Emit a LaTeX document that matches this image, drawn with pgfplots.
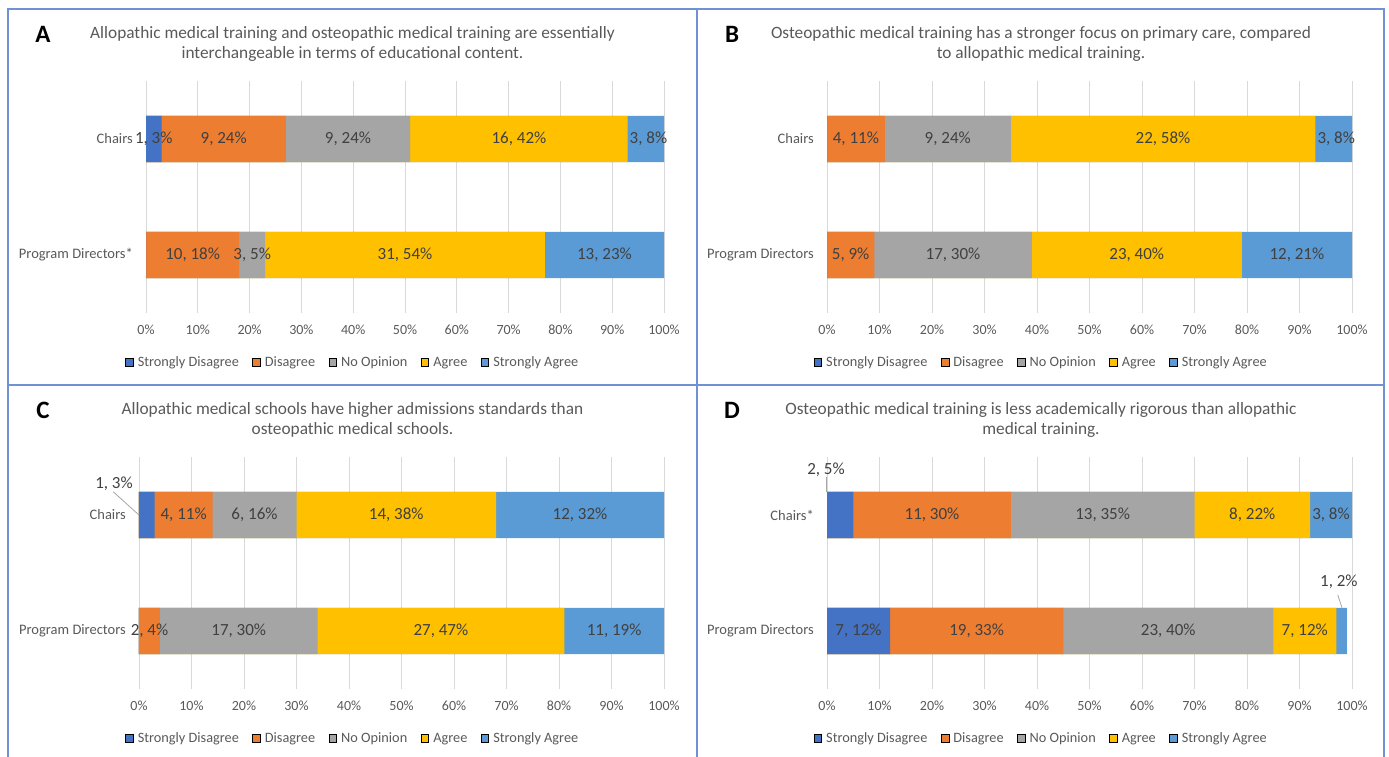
\documentclass[border=0pt]{standalone}
\usepackage{fontspec}
\setmainfont{Carlito}
\usepackage{pgfplots}
\usepackage{pgfplotstable}
\pgfplotsset{compat=1.18}

\definecolor{sdis}{HTML}{4472C4}
\definecolor{dis}{HTML}{ED7D31}
\definecolor{noop}{HTML}{A5A5A5}
\definecolor{agr}{HTML}{FFC000}
\definecolor{sagr}{HTML}{5B9BD5}
\definecolor{txtgray}{HTML}{595959}
\definecolor{lblgray}{HTML}{404040}
\definecolor{gridgray}{HTML}{D9D9D9}
\definecolor{leadgray}{HTML}{A6A6A6}
\definecolor{panelframe}{RGB}{112,146,212}

% Rounded shares (percent) with "count, share" labels; y=1 chairs, y=0 program directors
\pgfplotstableread[col sep=semicolon]{
y;sd;sdl;d;dl;no;nol;a;al;sa;sal
0;0;{};18;10, 18\%;5;3, 5\%;54;31, 54\%;23;13, 23\%
1;3;1, 3\%;24;9, 24\%;24;9, 24\%;42;16, 42\%;8;3, 8\%
}\tabA
\pgfplotstableread[col sep=semicolon]{
y;sd;sdl;d;dl;no;nol;a;al;sa;sal
0;0;{};9;5, 9\%;30;17, 30\%;40;23, 40\%;21;12, 21\%
1;0;{};11;4, 11\%;24;9, 24\%;58;22, 58\%;8;3, 8\%
}\tabB
\pgfplotstableread[col sep=semicolon]{
y;sd;sdl;d;dl;no;nol;a;al;sa;sal
0;0;{};4;2, 4\%;30;17, 30\%;47;27, 47\%;19;11, 19\%
1;3;{};11;4, 11\%;16;6, 16\%;38;14, 38\%;32;12, 32\%
}\tabC
\pgfplotstableread[col sep=semicolon]{
y;sd;sdl;d;dl;no;nol;a;al;sa;sal
0;12;7, 12\%;33;19, 33\%;40;23, 40\%;12;7, 12\%;2;{}
1;5;{};30;11, 30\%;35;13, 35\%;22;8, 22\%;8;3, 8\%
}\tabD

\pgfplotsset{
  likert/.style={
    scale only axis,
    height=232pt,
    xmin=0, xmax=100,
    ymin=-0.5, ymax=1.5,
    clip mode=individual,
    xtick={0,10,...,100},
    xticklabels={0\%,10\%,20\%,30\%,40\%,50\%,60\%,70\%,80\%,90\%,100\%},
    ytick={0,1},
    xmajorgrids,
    major grid style={draw=gridgray, line width=0.9pt},
    axis line style={draw=none},
    major tick length=0pt,
    xticklabel style={font=\fontsize{14}{16}\selectfont, text=txtgray, anchor=center, yshift=-17pt},
    yticklabel style={font=\fontsize{14.5}{16}\selectfont, text=txtgray, anchor=east, inner sep=0pt, xshift=-13pt},
    legend columns=5,
    legend image code/.code={\fill[##1] (0pt,-3.8pt) rectangle (7.6pt,3.8pt);},
    legend style={draw=none, fill=none, anchor=center, font=\fontsize{14.3}{16}\selectfont, text=txtgray,
      nodes={inner sep=1.5pt},
      /tikz/every even column/.append style={column sep=12pt},
      /tikz/every odd column/.append style={column sep=3pt}},
  },
  % one stacked segment: a bar from 0 to the running total, drawn last-to-first
  seg/.style={xbar, bar width=0.397, bar shift=0pt, fill=#1, draw=none, forget plot},
  % the "count, share" text in the middle of a segment
  seglabel/.style={only marks, mark=*, mark size=0pt, mark options={draw=none, fill=none},
    forget plot, point meta=explicit symbolic, nodes near coords,
    every node near coord/.append style={font=\fontsize{17}{18}\selectfont, text=lblgray, anchor=center, inner sep=0pt}},
}
\tikzset{
  annot/.style={font=\fontsize{17}{18}\selectfont, text=lblgray, inner sep=0pt},
  leader/.style={draw=leadgray, line width=0.8pt},
  letter/.style={font=\bfseries\fontsize{25}{28}\selectfont, text=black},
  stmt/.style={font=\fontsize{17.3}{20.5}\selectfont, text=txtgray, align=center},
}

\newcommand\likertlegend{%
  \addlegendimage{fill=sdis}\addlegendentry{Strongly Disagree}
  \addlegendimage{fill=dis}\addlegendentry{Disagree}
  \addlegendimage{fill=noop}\addlegendentry{No Opinion}
  \addlegendimage{fill=agr}\addlegendentry{Agree}
  \addlegendimage{fill=sagr}\addlegendentry{Strongly Agree}}

\newcommand\likertbars[1]{%
  \addplot[seg=sagr] table[x expr={\thisrow{sd}+\thisrow{d}+\thisrow{no}+\thisrow{a}+\thisrow{sa}}, y=y] {#1};
  \addplot[seg=agr]  table[x expr={\thisrow{sd}+\thisrow{d}+\thisrow{no}+\thisrow{a}}, y=y] {#1};
  \addplot[seg=noop] table[x expr={\thisrow{sd}+\thisrow{d}+\thisrow{no}}, y=y] {#1};
  \addplot[seg=dis]  table[x expr={\thisrow{sd}+\thisrow{d}}, y=y] {#1};
  \addplot[seg=sdis] table[x=sd, y=y] {#1};
  \addplot[seglabel] table[x expr={\thisrow{sd}/2}, y=y, meta=sdl] {#1};
  \addplot[seglabel] table[x expr={\thisrow{sd}+\thisrow{d}/2}, y=y, meta=dl] {#1};
  \addplot[seglabel] table[x expr={\thisrow{sd}+\thisrow{d}+\thisrow{no}/2}, y=y, meta=nol] {#1};
  \addplot[seglabel] table[x expr={\thisrow{sd}+\thisrow{d}+\thisrow{no}+\thisrow{a}/2}, y=y, meta=al] {#1};
  \addplot[seglabel] table[x expr={\thisrow{sd}+\thisrow{d}+\thisrow{no}+\thisrow{a}+\thisrow{sa}/2}, y=y, meta=sal] {#1};}

\begin{document}
\begin{tikzpicture}[x=1pt, y=1pt]
\useasboundingbox (0,0) rectangle (1389,757);

% panel frames
\draw[panelframe, line width=1.5pt] (8,0) -- (8,748) -- (1384,748) -- (1384,0);
\draw[panelframe, line width=1.5pt] (697,0) -- (697,748);
\draw[panelframe, line width=1.5pt] (8,372) -- (1384,372);

% panel letters and statements
\node[letter] at (43,723) {A};
\node[letter] at (732,723) {B};
\node[letter] at (43,347) {C};
\node[letter] at (732,347) {D};
\node[stmt] at (352.5,713) {Allopathic medical training and osteopathic medical training are essentially\\interchangeable in terms of educational content.};
\node[stmt] at (1041,713) {Osteopathic medical training has a stronger focus on primary care, compared\\to allopathic medical training.};
\node[stmt] at (352.5,337) {Allopathic medical schools have higher admissions standards than\\osteopathic medical schools.};
\node[stmt] at (1041,337) {Osteopathic medical training is less academically rigorous than allopathic\\medical training.};

% A
\begin{axis}[likert, at={(146pt,444pt)}, anchor=south west, width=518pt,
  yticklabels={Program Directors*, Chairs},
  legend style={at={(0.3987,-0.213)}}]
\likertbars{\tabA}
\likertlegend
\end{axis}

% B
\begin{axis}[likert, at={(827pt,444pt)}, anchor=south west, width=525pt,
  yticklabels={Program Directors, Chairs},
  legend style={at={(0.4076,-0.213)}}]
\likertbars{\tabB}
\likertlegend
\end{axis}

% C
\begin{axis}[likert, at={(139pt,68pt)}, anchor=south west, width=525pt,
  yticklabels={Program Directors, Chairs},
  legend style={at={(0.4067,-0.213)}}]
\likertbars{\tabC}
\likertlegend
\node[annot] at (axis cs:-4.76,1.267) {1, 3\%};
\draw[leader] (axis cs:-4.9,1.2) -- (axis cs:0,1);
\end{axis}

% D
\begin{axis}[likert, at={(827pt,68pt)}, anchor=south west, width=525pt,
  yticklabels={Program Directors, Chairs*},
  legend style={at={(0.4076,-0.213)}}]
\likertbars{\tabD}
\likertlegend
\node[annot] at (axis cs:-0.19,1.388) {2, 5\%};
\draw[leader] (axis cs:-0.19,1.33) -- (axis cs:-0.19,1.2);
\node[annot] at (axis cs:97.5,0.42) {1, 2\%};
\draw[leader] (axis cs:97.3,0.31) -- (axis cs:98.1,0.2);
\end{axis}
\end{tikzpicture}
\end{document}
